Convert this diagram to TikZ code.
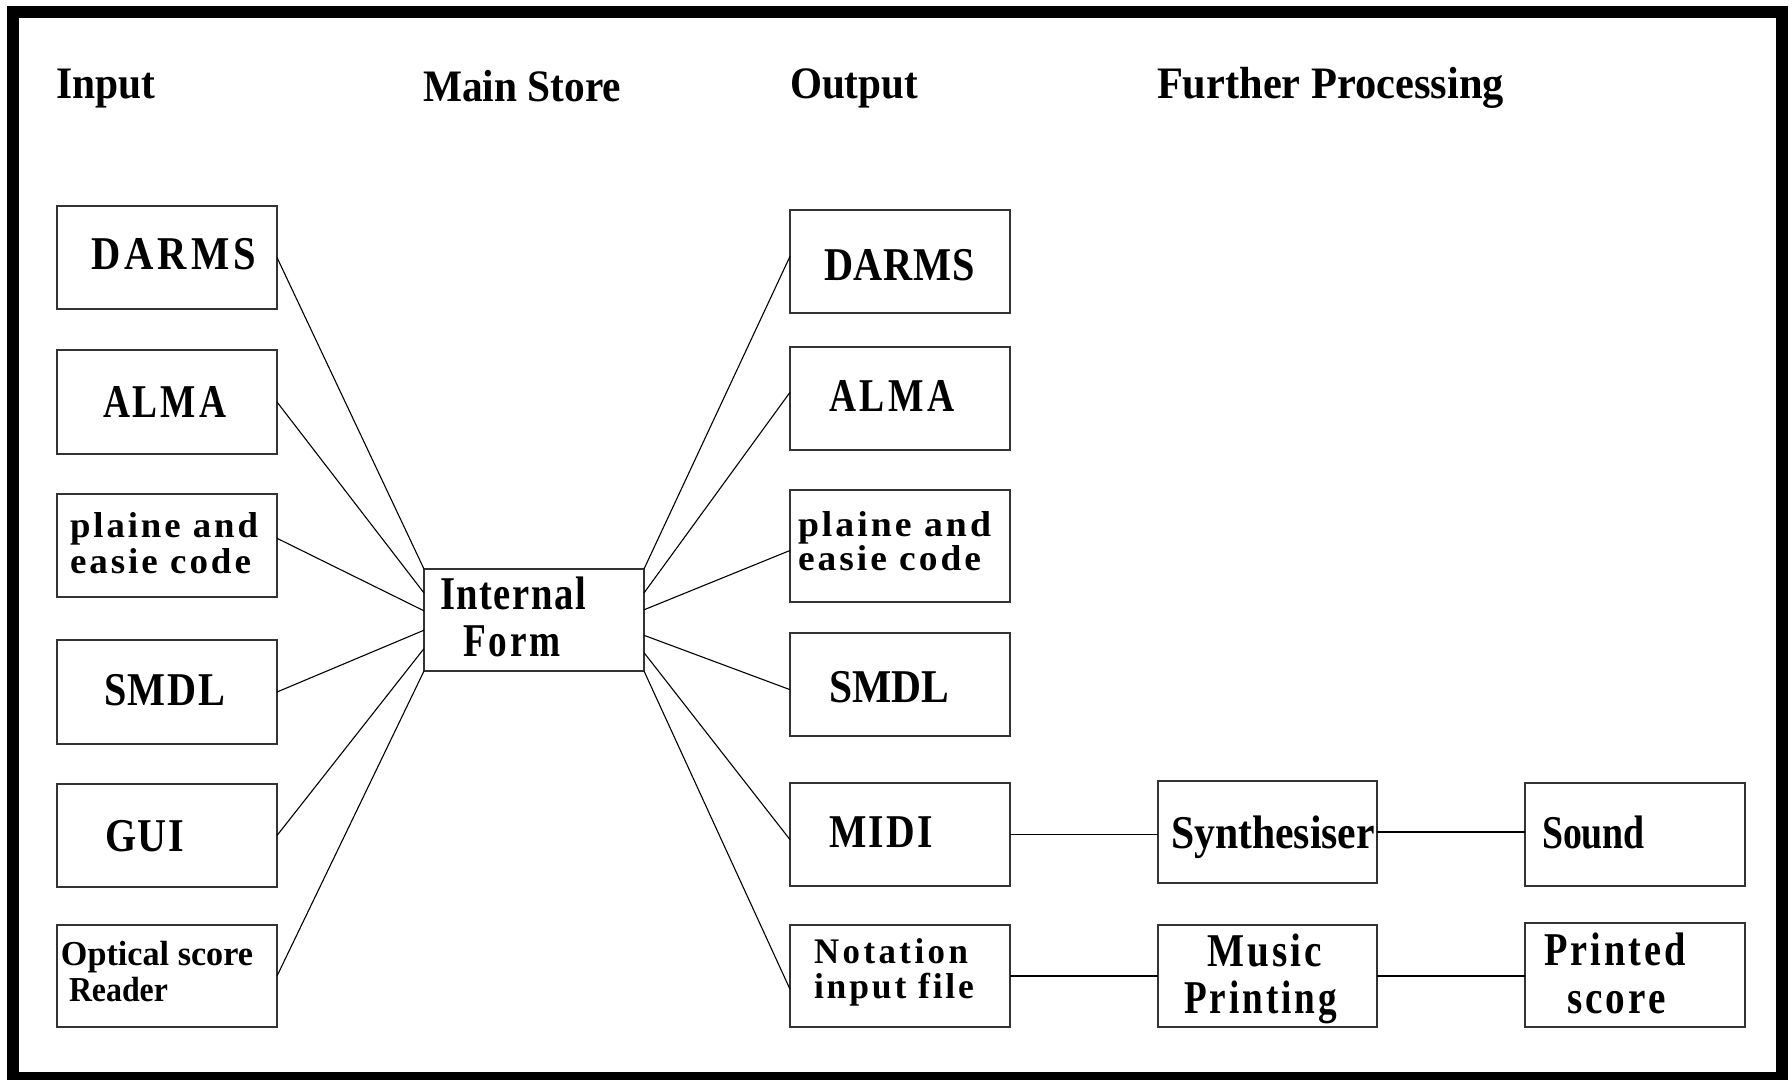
\documentclass[tikz,border=0pt]{standalone}
\usepackage{fontspec}
\setmainfont{Liberation Serif}
\usetikzlibrary{calc}

% one drawing unit = one pixel of a 1792 x 1080 page
\newlength\pxu
\setlength\pxu{0.5pt}

% text squeezed or stretched to a given width, with optional tracking
\newcommand\fw[3][0]{\resizebox{#2\pxu}{\height}{\addfontfeature{LetterSpace=#1}#3}}

\newcommand\szhd{\fontsize{22.5pt}{26pt}\selectfont\bfseries}
\newcommand\szbig{\fontsize{23.5pt}{27pt}\selectfont\bfseries}
\newcommand\szmid{\fontsize{17.5pt}{21pt}\selectfont\bfseries}
\newcommand\szsm{\fontsize{18pt}{22pt}\selectfont\bfseries}

\tikzset{
  box/.style 2 args={draw=black!80, line width=0.65pt, minimum width=#1\pxu,
    minimum height=#2\pxu, inner sep=0pt, outer sep=0pt},
  lbl/.style={anchor=base west, inner sep=0pt, outer sep=0pt},
  link/.style={line width=0.55pt},
  outerframe/.style={line width=6pt}
}

\begin{document}
\begin{tikzpicture}[x=0.5pt, y=-0.5pt]
\useasboundingbox (0,0) rectangle (1792,1080);
\fill[white] (0,0) rectangle (1792,1080);

% heavy border
\draw[outerframe] (12.5,12) rectangle (1781.5,1078);

% column headings
\node[lbl, font=\szhd] (hin)  at (56,99)   {\fw{99}{Input}};
\node[lbl, font=\szhd] (hms)  at (423,102) {\fw{198}{Main Store}};
\node[lbl, font=\szhd] (hout) at (790,99)  {\fw{128}{Output}};
\node[lbl, font=\szhd] (hfp)  at (1157,99) {\fw{347}{Further Processing}};

% input formats
\node[box={220}{103}] (din) at (167,257.5) {};
\node[box={220}{104}] (ain) at (167,402) {};
\node[box={220}{103}] (pin) at (167,545.5) {};
\node[box={220}{104}] (sin) at (167,692) {};
\node[box={220}{103}] (gin) at (167,835.5) {};
\node[box={220}{102}] (oin) at (167,976) {};

\node[lbl, font=\szbig] (tdin) at (91,270)  {\fw[10]{165}{DARMS}};
\node[lbl, font=\szbig] (tain) at (103,417) {\fw[8]{123}{ALMA}};
\node[lbl, font=\szsm]  (tpin1) at (70,537) {\fw[8]{188}{plaine and}};
\node[lbl, font=\szsm]  (tpin2) at (70,573) {\fw[8]{181}{easie code}};
\node[lbl, font=\szbig] (tsin) at (104,705) {\fw[4]{121}{SMDL}};
\node[lbl, font=\szbig] (tgin) at (105,851) {\fw[4]{79}{GUI}};
\node[lbl, font=\szmid] (toin1) at (61,965) {\fw{192}{Optical score}};
\node[lbl, font=\szmid] (toin2) at (69,1001) {\fw{99}{Reader}};

% main store
\node[box={220}{102}] (int) at (534,620) {};
\node[lbl, font=\szbig] (tint1) at (440,609) {\fw[4]{146}{Internal}};
\node[lbl, font=\szbig] (tint2) at (463,656) {\fw[8]{98}{Form}};

% output formats
\node[box={220}{103}] (dout) at (900,261.5) {};
\node[box={220}{103}] (aout) at (900,398.5) {};
\node[box={220}{112}] (pout) at (900,546) {};
\node[box={220}{103}] (sout) at (900,684.5) {};
\node[box={220}{103}] (mout) at (900,834.5) {};
\node[box={220}{102}] (nout) at (900,976) {};

\node[lbl, font=\szbig] (tdout) at (824,281) {\fw[2]{151}{DARMS}};
\node[lbl, font=\szbig] (taout) at (829,411) {\fw[10]{126}{ALMA}};
\node[lbl, font=\szsm]  (tpout1) at (798,536) {\fw[8]{193}{plaine and}};
\node[lbl, font=\szsm]  (tpout2) at (798,570) {\fw[8]{183}{easie code}};
\node[lbl, font=\szbig] (tsout) at (829,702) {\fw{120}{SMDL}};
\node[lbl, font=\szbig] (tmout) at (829,847) {\fw[6]{104}{MIDI}};
\node[lbl, font=\szsm]  (tnout1) at (814,963) {\fw[10]{154}{Notation}};
\node[lbl, font=\szsm]  (tnout2) at (814,998) {\fw[8]{160}{input file}};

% further processing
\node[box={219}{102}] (syn) at (1267.5,832) {};
\node[box={220}{103}] (snd) at (1635,834.5) {};
\node[box={219}{102}] (mus) at (1267.5,976) {};
\node[box={220}{104}] (prt) at (1635,975) {};

\node[lbl, font=\szbig] (tsyn) at (1171,848) {\fw{204}{Synthesiser}};
\node[lbl, font=\szbig] (tsnd) at (1542,848) {\fw{103}{Sound}};
\node[lbl, font=\szbig] (tmus1) at (1207,966) {\fw[8]{115}{Music}};
\node[lbl, font=\szbig] (tmus2) at (1184,1013) {\fw[8]{153}{Printing}};
\node[lbl, font=\szbig] (tprt1) at (1544,965) {\fw[8]{142}{Printed}};
\node[lbl, font=\szbig] (tprt2) at (1567,1013) {\fw[8]{99}{score}};

% inputs feed the internal form
\draw[link] (din.east) -- (int.north west);
\draw[link] (ain.east) -- ($(int.north west)!0.235!(int.south west)$);
\draw[link] ($(pin.north east)!0.43!(pin.south east)$) -- ($(int.north west)!0.41!(int.south west)$);
\draw[link] (sin.east) -- ($(int.north west)!0.6!(int.south west)$);
\draw[link] (gin.east) -- ($(int.north west)!0.78!(int.south west)$);
\draw[link] (oin.east) -- (int.south west);

% internal form feeds the outputs
\draw[link] (int.north east) -- ($(dout.north west)!0.45!(dout.south west)$);
\draw[link] ($(int.north east)!0.235!(int.south east)$) -- ($(aout.north west)!0.44!(aout.south west)$);
\draw[link] ($(int.north east)!0.40!(int.south east)$) -- ($(pout.north west)!0.54!(pout.south west)$);
\draw[link] ($(int.north east)!0.65!(int.south east)$) -- ($(sout.north west)!0.55!(sout.south west)$);
\draw[link] ($(int.north east)!0.82!(int.south east)$) -- ($(mout.north west)!0.55!(mout.south west)$);
\draw[link] (int.south east) -- ($(nout.north west)!0.63!(nout.south west)$);

% processing chains
\draw[link] (mout.east) -- (mout.east -| syn.west);
\draw[link] (syn.east) -- (syn.east -| snd.west);
\draw[link] (nout.east) -- (nout.east -| mus.west);
\draw[link] (mus.east) -- (mus.east -| prt.west);
\end{tikzpicture}
\end{document}
